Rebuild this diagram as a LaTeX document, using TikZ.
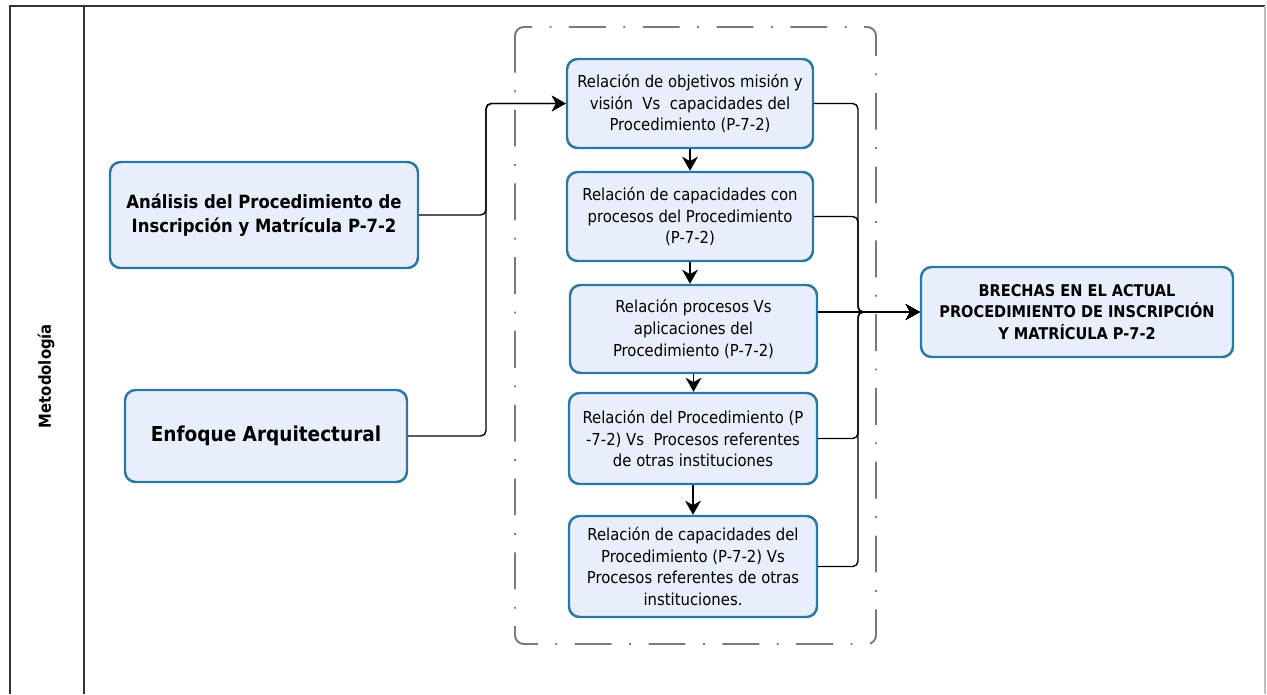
\documentclass[tikz,border=0pt]{standalone}
\usepackage{fontspec}
\setmainfont{DejaVu Sans Condensed}
\usetikzlibrary{arrows.meta}
\definecolor{boxfill}{HTML}{E9EEFB}
\definecolor{boxline}{HTML}{2B78A3}
\definecolor{frameline}{HTML}{333333}
\definecolor{groupline}{HTML}{7A7A7A}
\tikzset{
  stepbox/.style={draw=boxline, fill=boxfill, line width=1.4pt, rounded corners=6pt,
    align=center, inner sep=2pt, font=\fontsize{9.4}{12.5}\selectfont},
  mainbox/.style={stepbox, font=\fontsize{10.4}{14}\selectfont\bfseries},
  link/.style={line width=0.8pt, draw=black, rounded corners=3pt},
  arr/.style={link, -{Stealth[length=8pt,width=9pt,inset=2.5pt]}},
  group/.style={draw=groupline, line width=1.1pt, rounded corners=5pt,
    dash pattern=on 21pt off 10pt on 1pt off 10pt},
}
\newcommand{\bx}[7]{% name, style, cx, cy, w, h, text
  \node[#2, minimum width=#5*0.02cm, minimum height=#6*0.02cm] (#1) at (#3,#4) {#7};}
\begin{document}
\begin{tikzpicture}[x=0.02cm, y=-0.02cm]
\useasboundingbox (0,0) rectangle (1267,694);

% frame of the row
\coordinate (f1) at (10,6);
\coordinate (f2) at (10,694);
\coordinate (f3) at (84,6);
\coordinate (f4) at (84,694);
\coordinate (f5) at (1265,6);
\coordinate (f6) at (1265,694);
\draw[frameline, line width=0.9pt] (f2) -- (f1) -- (f5);
\draw[frameline, line width=0.9pt] (f3) -- (f4);
\draw[black!25, line width=0.6pt] (f5) -- (f6);
\node[rotate=90, font=\fontsize{9.4}{10}\selectfont\bfseries] (met) at (46,376) {Metodología};

% dashed group around the chain of relations
\draw[group] (515,27) rectangle (876,644);

% input boxes
\bx{ana}{mainbox}{264}{215}{308}{106}{Análisis del Procedimiento de\\Inscripción y Matrícula P-7-2}
\bx{enf}{mainbox, font=\fontsize{11.7}{14}\selectfont\bfseries}{266}{436}{282}{92}{Enfoque Arquitectural}

% chain of relations
\bx{r1}{stepbox}{690}{103.5}{246}{89}{Relación de objetivos misión y\\visión\ \ Vs\ \ capacidades del\\Procedimiento (P-7-2)}
\bx{r2}{stepbox}{690}{216.5}{246}{89}{Relación de capacidades con\\procesos del Procedimiento\\(P-7-2)}
\bx{r3}{stepbox}{693.5}{329}{247}{88}{Relación procesos Vs\\aplicaciones del\\Procedimiento (P-7-2)}
\bx{r4}{stepbox}{693}{438.5}{248}{91}{Relación del Procedimiento (P\\-7-2) Vs\ \ Procesos referentes\\de otras instituciones}
\bx{r5}{stepbox}{693}{566.5}{248}{101}{Relación de capacidades del\\Procedimiento (P-7-2) Vs\\Procesos referentes de otras\\instituciones.}

% result
\bx{gap}{stepbox, font=\fontsize{9.2}{12.2}\selectfont\bfseries}{1077}{312}{312}{90}{BRECHAS EN EL ACTUAL\\PROCEDIMIENTO DE INSCRIPCIÓN\\Y MATRÍCULA P-7-2}

% inputs feed the first relation
\draw[arr] (ana.east) -- (486,215) -- (486,103.5) -- (r1.west);
\draw[arr] (enf.east) -- (486,436) -- (486,103.5) -- (r1.west);

% chain arrows
\draw[arr] (r1.south) -- (r1.south |- r2.north);
\draw[arr] (r2.south) -- (r2.south |- r3.north);
\draw[arr] (r3.south) -- (r3.south |- r4.north);
\draw[arr] (r4.south) -- (r4.south |- r5.north);

% every relation feeds the gaps
\draw[arr] (r1.east) -- (858,103.5) -- (858,312) -- (gap.west);
\draw[arr] (r2.east) -- (858,216.5) -- (858,312) -- (gap.west);
\draw[arr] (r3.east |- gap.west) -- (gap.west);
\draw[arr] (r4.east) -- (858,438.5) -- (858,312) -- (gap.west);
\draw[arr] (r5.east) -- (858,566.5) -- (858,312) -- (gap.west);
\end{tikzpicture}
\end{document}
